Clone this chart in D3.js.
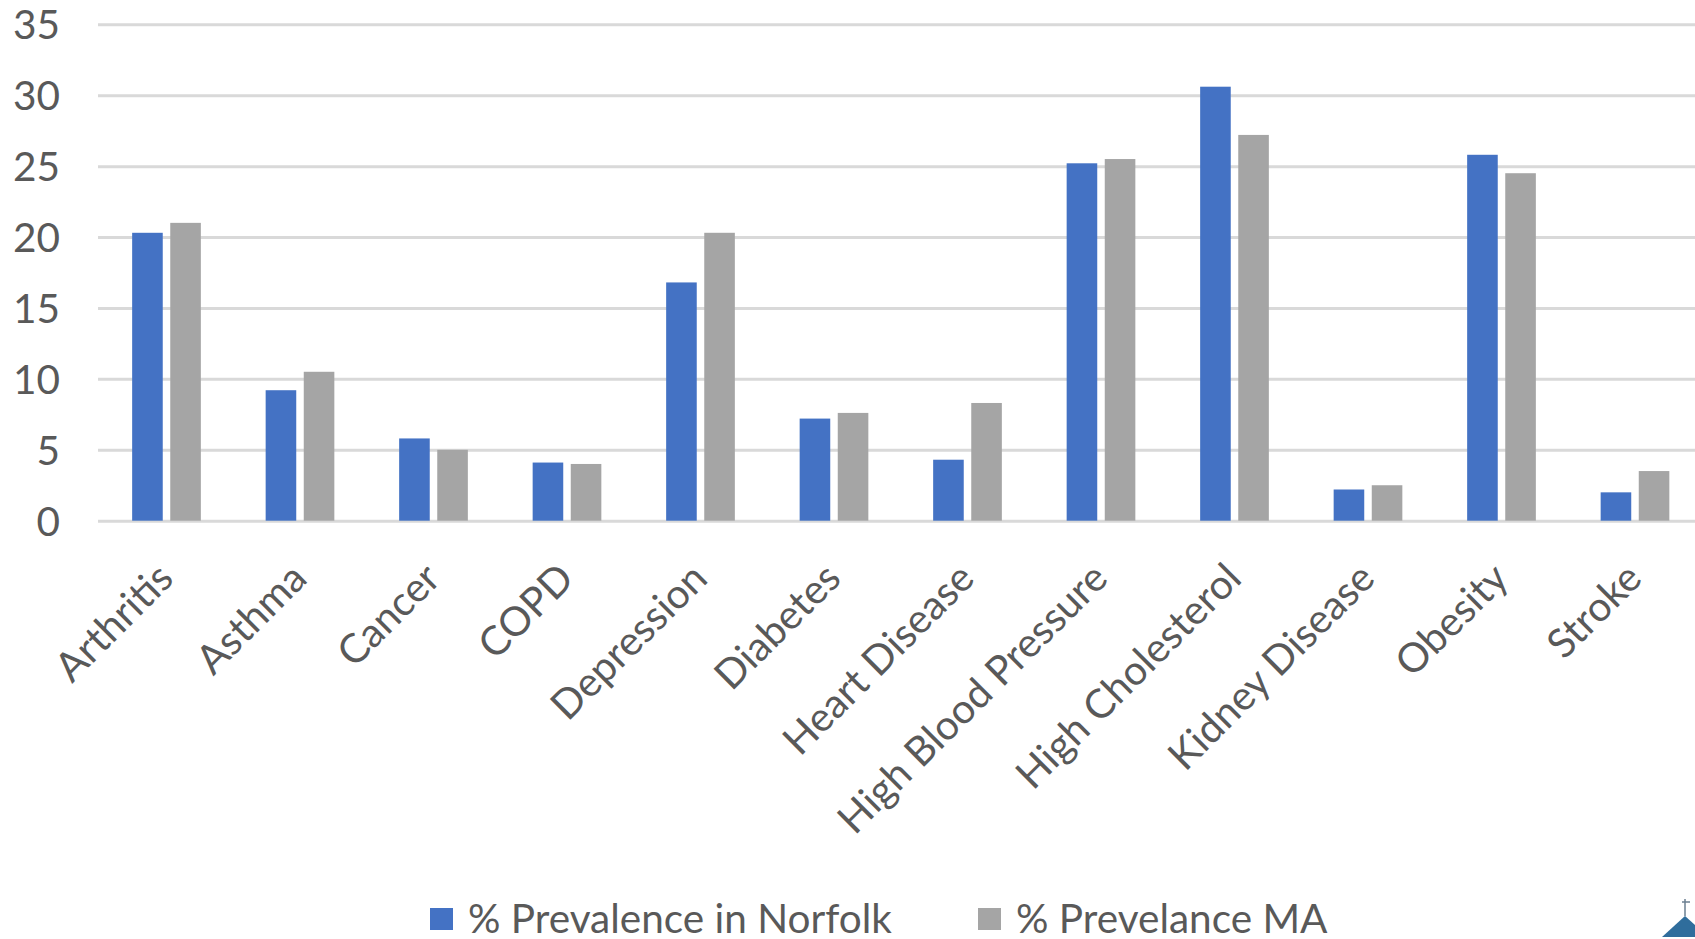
<!DOCTYPE html>
<html>
<head>
<meta charset="utf-8">
<script src="https://cdn.jsdelivr.net/npm/d3@7"></script>
<style>
  body { margin: 0; background: white; }
  text { font-family: Lato, "Open Sans", sans-serif; fill: #595959; }
</style>
</head>
<body>
<div id="container"></div>
<script>
let w = 1695;
let h = 939;

// chart data
let categories = ["Arthritis", "Asthma", "Cancer", "COPD", "Depression", "Diabetes",
  "Heart Disease", "High Blood Pressure", "High Cholesterol", "Kidney Disease", "Obesity", "Stroke"];
let seriesNames = ["% Prevalence in Norfolk", "% Prevelance MA"];
let norfolk = [20.3, 9.2, 5.8, 4.1, 16.8, 7.2, 4.3, 25.2, 30.6, 2.2, 25.8, 2.0];
let ma = [21.0, 10.5, 5.0, 4.0, 20.3, 7.6, 8.3, 25.5, 27.2, 2.5, 24.5, 3.5];
let yTicks = [0, 5, 10, 15, 20, 25, 30, 35];
let colors = ["#4472C4", "#A5A5A5"];

let viz = d3.select("#container")
  .append("svg")
    .attr("width", w)
    .attr("height", h)
    .style("display", "block")
    .style("background-color", "white");

// pick a font size so the text is as wide as the original
let probe = viz.append("text").attr("font-size", 44).text(seriesNames[0]);
let fs = 44 * 424 / probe.node().getComputedTextLength();
probe.remove();

let plotLeft = 98, plotTop = 24.3, plotBottom = 520.7;

let x0 = d3.scaleBand().domain(categories).range([99.75, 1701.75])
  .paddingInner(0.4854).paddingOuter(0.2427);
let x1 = d3.scaleBand().domain([0, 1]).range([0, x0.bandwidth()]).paddingInner(0.197);
let y = d3.scaleLinear().domain([0, 35]).range([plotBottom, plotTop]);

// gridlines + y labels
let yAxis = viz.append("g")
  .attr("transform", "translate(" + plotLeft + ",0)")
  .call(d3.axisLeft(y).tickValues(yTicks).tickSize(-(w - plotLeft + 10)).tickPadding(38));
yAxis.select(".domain").remove();
yAxis.selectAll("line").attr("stroke", "#d9d9d9").attr("stroke-width", 3);
yAxis.selectAll("text").attr("font-size", fs).attr("fill", "#595959")
  .attr("font-family", "Lato, 'Open Sans', sans-serif").attr("dy", "0.36em");

// bars
let rows = categories.map((c, i) => ({cat: c, vals: [norfolk[i], ma[i]]}));
let groups = viz.selectAll(".grp")
  .data(rows)
  .enter()
  .append("g")
  .attr("class", "grp")
  .attr("transform", d => "translate(" + x0(d.cat) + ",0)");
groups.selectAll("rect")
  .data(d => d.vals)
  .enter()
  .append("rect")
  .attr("x", (d, i) => x1(i))
  .attr("width", x1.bandwidth())
  .attr("y", d => y(d))
  .attr("height", d => y(0) - y(d))
  .attr("fill", (d, i) => colors[i]);

// category labels
let xAxis = viz.append("g")
  .attr("transform", "translate(0," + plotBottom + ")")
  .call(d3.axisBottom(x0).tickSize(0));
xAxis.select(".domain").remove();
xAxis.selectAll("text")
  .attr("font-size", fs).attr("fill", "#595959")
  .attr("font-family", "Lato, 'Open Sans', sans-serif")
  .attr("text-anchor", "end")
  .attr("y", 0).attr("dy", 0)
  .attr("transform", "translate(9,60) rotate(-45)");

// legend
let legendX = [430, 978];
let legend = viz.selectAll(".leg")
  .data(seriesNames)
  .enter()
  .append("g")
  .attr("class", "leg")
  .attr("transform", (d, i) => "translate(" + legendX[i] + ",908)");
legend.append("rect").attr("width", 23).attr("height", 22).attr("fill", (d, i) => colors[i]);
legend.append("text").attr("x", 38).attr("y", 25).attr("font-size", fs).text(d => d);

// little logo cut off in the corner
viz.append("path").attr("d", "M1662,937 L1685,916 L1695,925 L1695,937 Z").attr("fill", "#2f6d9c");
viz.append("line").attr("x1", 1685).attr("x2", 1685).attr("y1", 899).attr("y2", 916)
  .attr("stroke", "#6b7f90").attr("stroke-width", 1.5);
viz.append("line").attr("x1", 1682).attr("x2", 1690).attr("y1", 902).attr("y2", 902)
  .attr("stroke", "#6b7f90").attr("stroke-width", 1.5);
</script>
</body>
</html>
